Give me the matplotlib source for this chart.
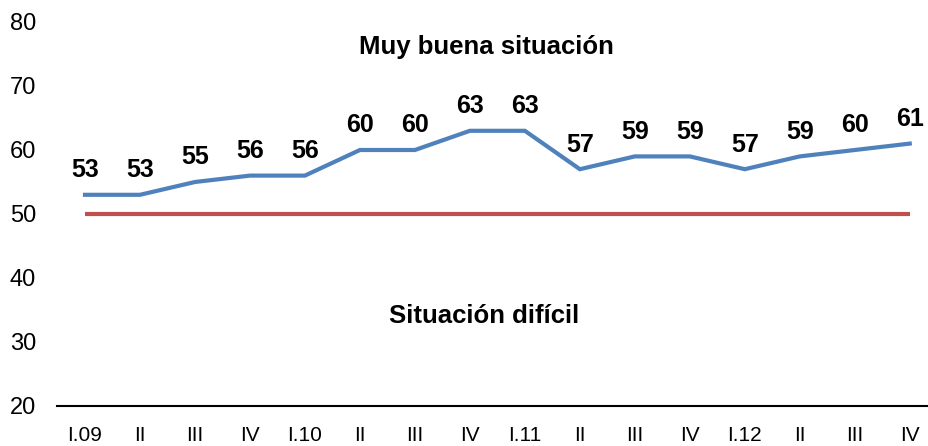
import matplotlib
matplotlib.use("Agg")
from matplotlib import pyplot as plt
from matplotlib import font_manager

quarters = ["I.09", "II", "III", "IV", "I.10", "II", "III", "IV",
            "I.11", "II", "III", "IV", "I.12", "II", "III", "IV"]
index_values = [53, 53, 55, 56, 56, 60, 60, 63, 63, 57, 59, 59, 57, 59, 60, 61]
threshold = [50] * len(quarters)

names = {f.name for f in font_manager.fontManager.ttflist}
narrow = "Liberation Sans Narrow" if "Liberation Sans Narrow" in names else "Liberation Sans"
plt.rcParams['font.family'] = ['Liberation Sans', 'DejaVu Sans']

fig = plt.figure(figsize=(9.29, 4.46), dpi=100)
ax = fig.add_axes([57.5 / 929, 1 - 406 / 446, 1 - 57.5 / 929, (406 - 22) / 446])

x = list(range(len(quarters)))
ax.plot(x, threshold, color='#C0504D', linewidth=3, solid_capstyle='butt')
ax.plot(x, index_values, color='#4F81BD', linewidth=3, solid_joinstyle='miter')

for xi, v in zip(x, index_values):
    ax.annotate(str(v), (xi, v), xytext=(0, 9), textcoords='offset points',
                ha='center', va='bottom', fontsize=18, fontweight='bold')

ax.text(7.3, 76.1, "Muy buena situación", ha='center', va='center', fontsize=18.5, fontweight='bold')
ax.text(7.25, 34.1, "Situación difícil", ha='center', va='center', fontsize=18.5, fontweight='bold')

ax.set_xlim(-0.5, 15.35)
ax.set_ylim(20, 80)
ax.set_yticks(range(20, 81, 10))
ax.set_xticks(x)
ax.set_xticklabels(quarters, fontsize=15, family=narrow)
for lbl in ax.get_yticklabels():
    lbl.set_fontsize(17)
    lbl.set_family(narrow)

for s in ['top', 'right', 'left']:
    ax.spines[s].set_visible(False)
ax.spines['bottom'].set_linewidth(1.5)
ax.tick_params(axis='both', length=0)
ax.tick_params(axis='x', pad=14.5)
ax.tick_params(axis='y', pad=15.5)

fig.savefig("out.png", dpi=100)
